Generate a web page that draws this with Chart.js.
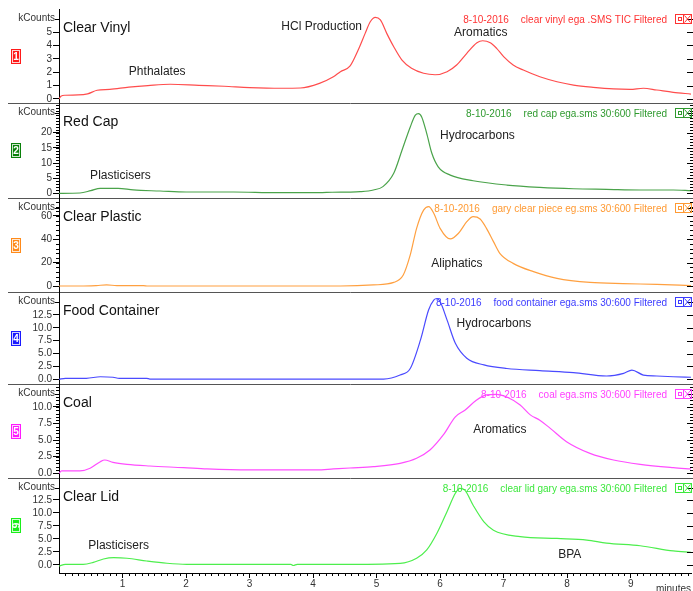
<!DOCTYPE html>
<html>
<head>
<meta charset="UTF-8">
<title>EGA pyrograms</title>
<style>
    body {
        margin: 0;
        background: #fff;
        font-family: 'Liberation Sans', Arial, sans-serif;
    }
    #wrap {
        position: relative;
        width: 693px;
        height: 591px;
        overflow: hidden;
        background: #fff;
    }
</style>
</head>
<body>
<div id="wrap"></div>

<script src="https://cdn.jsdelivr.net/npm/chart.js"></script>
<script>
// ---- data: time in minutes, signal in kCounts ----
const runDate = '8-10-2016';
const sampleNames = ['Clear Vinyl', 'Red Cap', 'Clear Plastic', 'Food Container', 'Coal', 'Clear Lid'];
const runFiles = [
    'clear vinyl ega .SMS TIC Filtered',
    'red cap ega.sms 30:600 Filtered',
    'gary clear piece eg.sms 30:600 Filtered',
    'food container ega.sms 30:600 Filtered',
    'coal ega.sms 30:600 Filtered',
    'clear lid gary ega.sms 30:600 Filtered'
];
const minuteTicks = [1, 2, 3, 4, 5, 6, 7, 8, 9];

const vinylTicks = [0, 1, 2, 3, 4, 5];
const vinylTime = [0, 0.03, 0.1, 0.3, 0.45, 0.6, 0.8, 1.1, 1.4, 1.75, 2.2, 2.6, 3.0, 3.5, 3.8, 4.1, 4.32, 4.43, 4.58,
    4.71, 4.82, 4.9, 4.98, 5.06, 5.16, 5.27, 5.4, 5.55, 5.74, 5.92, 6.11, 6.26, 6.42, 6.58, 6.67, 6.79, 6.89, 7.0,
    7.15, 7.31, 7.57, 7.84, 8.1, 8.41, 8.73, 8.99, 9.2, 9.41, 9.67, 9.95];
const vinylCounts = [0, 0.2, 0.28, 0.3, 0.38, 0.65, 0.72, 0.88, 1.0, 1.1, 1.02, 0.95, 0.85, 0.8, 0.82, 1.17, 1.66, 2.04, 2.45,
    3.66, 4.9, 5.77, 6.1, 5.9, 4.9, 3.9, 2.9, 2.29, 1.92, 1.81, 2.04, 2.54, 3.41, 4.2, 4.35, 4.2, 3.78, 3.16,
    2.54, 2.16, 1.66, 1.29, 1.04, 0.87, 0.75, 0.72, 0.8, 0.67, 0.5, 0.37];

const redCapTicks = [0, 5, 10, 15, 20];
const redCapTime = [0, 0.33, 0.5, 0.65, 0.93, 1.17, 1.59, 2.0, 2.75, 3.43, 4.1, 4.3, 4.58, 4.74, 4.95, 5.1, 5.27, 5.4,
    5.53, 5.61, 5.66, 5.71, 5.79, 5.87, 5.97, 6.16, 6.52, 7.05, 7.57, 8.1, 8.62, 9.15, 9.67, 9.95];
const redCapCounts = [0, 0.1, 0.86, 1.64, 1.64, 1.1, 0.76, 0.43, 0.43, 0.2, 0.2, 0.35, 0.4, 0.53, 1.1, 2.2, 6.6, 14.2,
    21.9, 25.8, 26.3, 25.2, 19.7, 13.2, 8.75, 6.0, 4.15, 2.73, 1.97, 1.51, 1.3, 1.09, 1.09, 0.86];

const plasticTicks = [0, 20, 40, 60];
const plasticTime = [0, 0.34, 0.59, 0.75, 0.91, 1.33, 1.4, 4.43, 4.95, 5.27, 5.42, 5.53, 5.63, 5.74, 5.82, 5.9, 6.0,
    6.16, 6.29, 6.42, 6.52, 6.63, 6.73, 6.84, 6.94, 7.15, 7.47, 7.84, 8.36, 8.88, 9.41, 9.95];
const plasticCounts = [0, 0, 0.4, 0.9, 0.4, 0.3, 0, 0, 0.9, 3.1, 9.4, 26.6, 49.4, 65, 68, 62.3, 49.4,
    40.3, 45.2, 55.1, 59.4, 57.4, 49.4, 38, 28, 19.4, 12.3, 6.6, 3.1, 2.0, 1.4, 0.3];

const foodTicks = [0, 2.5, 5, 7.5, 10, 12.5];
const foodTime = [0, 0.1, 0.43, 0.65, 0.85, 0.95, 1.38, 1.43, 5.11, 5.37, 5.53, 5.69, 5.82, 5.9, 5.95, 6.0, 6.11, 6.24,
    6.42, 6.69, 7.05, 7.57, 8.1, 8.62, 8.89, 9.02, 9.2, 9.41, 9.67, 9.95];
const foodCounts = [0, 0.2, 0.2, 0.5, 0.4, 0.2, 0.2, 0.05, 0.05, 0.83, 2.1, 7.6, 13.5, 15.4, 15.7, 15.1, 11.5, 7.0,
    4.1, 2.8, 2.1, 1.68, 1.3, 0.64, 1.16, 1.8, 0.83, 0.64, 0.5, 0.4];

const coalTicks = [0, 2.5, 5, 7.5, 10];
const coalTime = [0, 0.04, 0.33, 0.49, 0.65, 0.72, 0.85, 1.07, 1.43, 1.96, 2.33, 3.0, 4.06, 4.32, 4.58, 4.95, 5.37,
    5.63, 5.84, 6.05, 6.24, 6.39, 6.57, 6.73, 6.89, 7.05, 7.26, 7.42, 7.57, 7.73, 7.99, 8.36, 8.73, 9.15, 9.67, 9.95];
const coalCounts = [0, 0.35, 0.35, 0.75, 1.75, 2.0, 1.65, 1.35, 1.1, 0.85, 0.65, 0.5, 0.5, 0.65, 0.8, 1.0, 1.5,
    2.26, 3.5, 5.77, 8.5, 9.5, 11.0, 11.8, 11.9, 11.5, 10.3, 8.8, 8.0, 6.8, 4.76, 3.0, 2.0, 1.35, 0.85, 0.65];

const lidTicks = [0, 2.5, 5, 7.5, 10, 12.5];
const lidTime = [0, 0.1, 0.38, 0.54, 0.7, 0.86, 1.07, 1.38, 1.7, 2.01, 3.65, 3.69, 3.75, 4.43, 5.37, 5.63, 5.79, 5.95,
    6.11, 6.24, 6.31, 6.39, 6.52, 6.69, 6.84, 7.26, 7.84, 8.31, 8.62, 9.15, 9.67, 9.95];
const lidCounts = [-0.2, 0.13, 0.13, 0.5, 1.15, 1.4, 1.3, 0.77, 0.33, 0.13, 0.13, -0.1, 0.13, 0.13, 0.33, 1.3, 2.9, 6.1,
    10.3, 13.8, 14.75, 14.4, 11.5, 8.3, 6.7, 5.45, 5.1, 4.8, 4.2, 3.7, 2.7, 2.44];

// ---- layout / style of the six stacked panels ----
const W = 693, AXIS_X = 59, X_MAX = 9.95, PAD = 12;

const panels = [
    { t: vinylTime, v: vinylCounts, ticks: vinylTicks, minor: 0, dec: 0,
      top: 9, bottom: 103, yMin: -0.30, yMax: 6.72,
      line: '#ff4d4d', text: '#ff3333', badge: '#ff1a1a',
      notes: [['Phthalates', 1.10, 1.79], ['HCl Production', 3.5, 5.15], ['Aromatics', 6.22, 4.7]] },
    { t: redCapTime, v: redCapCounts, ticks: redCapTicks, minor: 1, dec: 0,
      top: 103, bottom: 198, yMin: -1.55, yMax: 29.8,
      line: '#4aa34a', text: '#2f9a2f', badge: '#0a800a',
      notes: [['Plasticisers', 0.49, 4.7], ['Hydrocarbons', 6.0, 17.8]] },
    { t: plasticTime, v: plasticCounts, ticks: plasticTicks, minor: 4, dec: 0,
      top: 198, bottom: 292, yMin: -5.14, yMax: 75.4,
      line: '#ffa040', text: '#ff9a33', badge: '#ff8a1a',
      notes: [['Aliphatics', 5.86, 16.5]] },
    { t: foodTime, v: foodCounts, ticks: foodTicks, minor: 0, dec: 1,
      top: 292, bottom: 384, yMin: -0.91, yMax: 16.96,
      line: '#4a4aff', text: '#3c3cff', badge: '#1a1aff',
      notes: [['Hydrocarbons', 6.26, 10.1]] },
    { t: coalTime, v: coalCounts, ticks: coalTicks, minor: 0.5, dec: 1,
      top: 384, bottom: 478, yMin: -0.71, yMax: 13.45,
      line: '#ff4dff', text: '#ff40ff', badge: '#ff1aff',
      notes: [['Aromatics', 6.52, 6.1]] },
    { t: lidTime, v: lidCounts, ticks: lidTicks, minor: 0, dec: 1,
      top: 478, bottom: 573, yMin: -1.54, yMax: 16.73,
      line: '#4dee4d', text: '#3de83d', badge: '#1aee1a',
      notes: [['Plasticisers', 0.46, 3.1], ['BPA', 7.86, 1.4]] }
];

Chart.defaults.font.family = "'Liberation Sans', Arial, sans-serif";

function decor(p, idx, last) {
    return {
        id: 'decor' + idx,
        afterDraw(chart) {
            const { ctx, chartArea: a, scales: { x, y } } = chart;
            const px = v => Math.round(v) + 0.5;
            ctx.save();
            ctx.lineWidth = 1;

            // panel separator
            if (!last) {
                ctx.strokeStyle = '#555';
                ctx.beginPath();
                ctx.moveTo(8, px(a.bottom));
                ctx.lineTo(W, px(a.bottom));
                ctx.stroke();
            }

            // minor ticks (left + right), major ticks on the right
            ctx.strokeStyle = '#000';
            ctx.beginPath();
            if (p.minor) {
                for (let k = 0; k * p.minor <= y.max; k++) {
                    const yy = px(y.getPixelForValue(k * p.minor));
                    ctx.moveTo(AXIS_X - 3, yy); ctx.lineTo(AXIS_X, yy);
                    ctx.moveTo(a.right - 1, yy); ctx.lineTo(W, yy);
                }
            }
            p.ticks.forEach(v => {
                const yy = px(y.getPixelForValue(v));
                ctx.moveTo(a.right - 4, yy); ctx.lineTo(W, yy);
            });
            const ky = px(a.top + 9.5);
            ctx.moveTo(AXIS_X - 4, ky); ctx.lineTo(AXIS_X, ky);
            ctx.moveTo(a.right - 4, ky); ctx.lineTo(W, ky);
            ctx.stroke();

            // unit label
            ctx.fillStyle = '#333';
            ctx.font = "10px 'Liberation Sans', Arial";
            ctx.textAlign = 'right';
            ctx.textBaseline = 'middle';
            ctx.fillText('kCounts', AXIS_X - 4, a.top + 9.5);

            // sample title
            ctx.fillStyle = '#111';
            ctx.font = "14px 'Liberation Sans', Arial";
            ctx.textAlign = 'left';
            ctx.textBaseline = 'alphabetic';
            ctx.fillText(sampleNames[idx], 63, a.top + 23);

            // header: date + file name
            ctx.fillStyle = p.text;
            ctx.font = "10px 'Liberation Sans', Arial";
            ctx.textAlign = 'right';
            ctx.fillText(runFiles[idx], 667, a.top + 14);
            const fw = ctx.measureText(runFiles[idx]).width;
            ctx.fillText(runDate, 667 - fw - 12, a.top + 14);

            // the two little window icons
            ctx.strokeStyle = p.text;
            const iy = a.top + 5;
            ctx.strokeRect(675.5, iy + 0.5, 8, 9);
            ctx.strokeRect(678.5, iy + 3.5, 3, 3);
            ctx.strokeRect(683.5, iy + 0.5, 8, 9);
            ctx.beginPath();
            ctx.moveTo(684.5, iy + 1.5); ctx.lineTo(690.5, iy + 8.5);
            ctx.moveTo(690.5, iy + 1.5); ctx.lineTo(684.5, iy + 8.5);
            ctx.stroke();

            // panel number badge
            const by = Math.round((a.top + a.bottom) / 2 - 7.5);
            ctx.fillStyle = p.badge;
            ctx.fillRect(11, by, 10, 15);
            ctx.strokeStyle = 'rgba(255,255,255,0.8)';
            ctx.strokeRect(12.5, by + 1.5, 7, 12);
            ctx.fillStyle = '#fff';
            ctx.font = "bold 10px 'Liberation Sans', Arial";
            ctx.textAlign = 'center';
            ctx.textBaseline = 'middle';
            if (last) {
                ctx.save();
                ctx.translate(16, by + 7.5);
                ctx.rotate(Math.PI / 2);
                ctx.fillText(String(idx + 1), 0, 1);
                ctx.restore();
            } else {
                ctx.fillText(String(idx + 1), 16, by + 8);
            }

            // peak labels
            ctx.fillStyle = '#222';
            ctx.font = "12px 'Liberation Sans', Arial";
            ctx.textAlign = 'left';
            ctx.textBaseline = 'alphabetic';
            p.notes.forEach(([txt, t, v]) => {
                ctx.fillText(txt, x.getPixelForValue(t), y.getPixelForValue(v));
            });

            // minor minute ticks + axis title on the bottom panel
            if (last) {
                ctx.strokeStyle = '#000';
                ctx.beginPath();
                for (let k = 1; k * 0.1 < X_MAX; k++) {
                    if (k % 10 === 0) continue;
                    const xx = px(x.getPixelForValue(k * 0.1));
                    ctx.moveTo(xx, a.bottom); ctx.lineTo(xx, a.bottom + 3);
                }
                ctx.stroke();
                ctx.fillStyle = '#333';
                ctx.font = "10px 'Liberation Sans', Arial";
                ctx.fillText('minutes', 656, a.bottom + 19);
            }
            ctx.restore();
        }
    };
}

const wrap = document.getElementById('wrap');

panels.forEach((p, i) => {
    const last = i === panels.length - 1;
    const cv = document.createElement('canvas');
    cv.width = W;
    cv.height = (p.bottom - p.top) + PAD + (last ? 18 : PAD);
    cv.style.cssText = 'position:absolute;left:0;top:' + (p.top - PAD) + 'px;';
    wrap.appendChild(cv);

    new Chart(cv, {
        type: 'line',
        data: {
            datasets: [{
                data: p.t.map((t, k) => ({ x: t, y: p.v[k] })),
                borderColor: p.line,
                borderWidth: 1.2,
                pointRadius: 0,
                cubicInterpolationMode: 'monotone',
                fill: false
            }]
        },
        options: {
            responsive: false,
            animation: false,
            layout: { padding: { left: 0, right: 2, top: PAD, bottom: last ? 0 : PAD } },
            plugins: { legend: { display: false }, tooltip: { enabled: false } },
            scales: {
                x: {
                    type: 'linear', min: 0, max: X_MAX, display: last,
                    afterBuildTicks: s => { s.ticks = minuteTicks.map(v => ({ value: v })); },
                    afterFit: s => { if (last) s.height = 18; },
                    grid: { drawOnChartArea: false, color: '#000', tickLength: 5 },
                    border: { color: '#000' },
                    ticks: { autoSkip: false, maxRotation: 0, padding: 0, color: '#333', font: { size: 10 } }
                },
                y: {
                    type: 'linear', min: p.yMin, max: p.yMax,
                    afterBuildTicks: s => { s.ticks = p.ticks.map(v => ({ value: v })); },
                    afterFit: s => { s.width = AXIS_X; },
                    grid: { drawOnChartArea: false, color: '#000', tickLength: 6 },
                    border: { color: '#000' },
                    ticks: { autoSkip: false, padding: 1, color: '#333', font: { size: 10 },
                             callback: v => Number(v).toFixed(p.dec) }
                }
            }
        },
        plugins: [decor(p, i, last)]
    });
});
</script>
</body>
</html>
